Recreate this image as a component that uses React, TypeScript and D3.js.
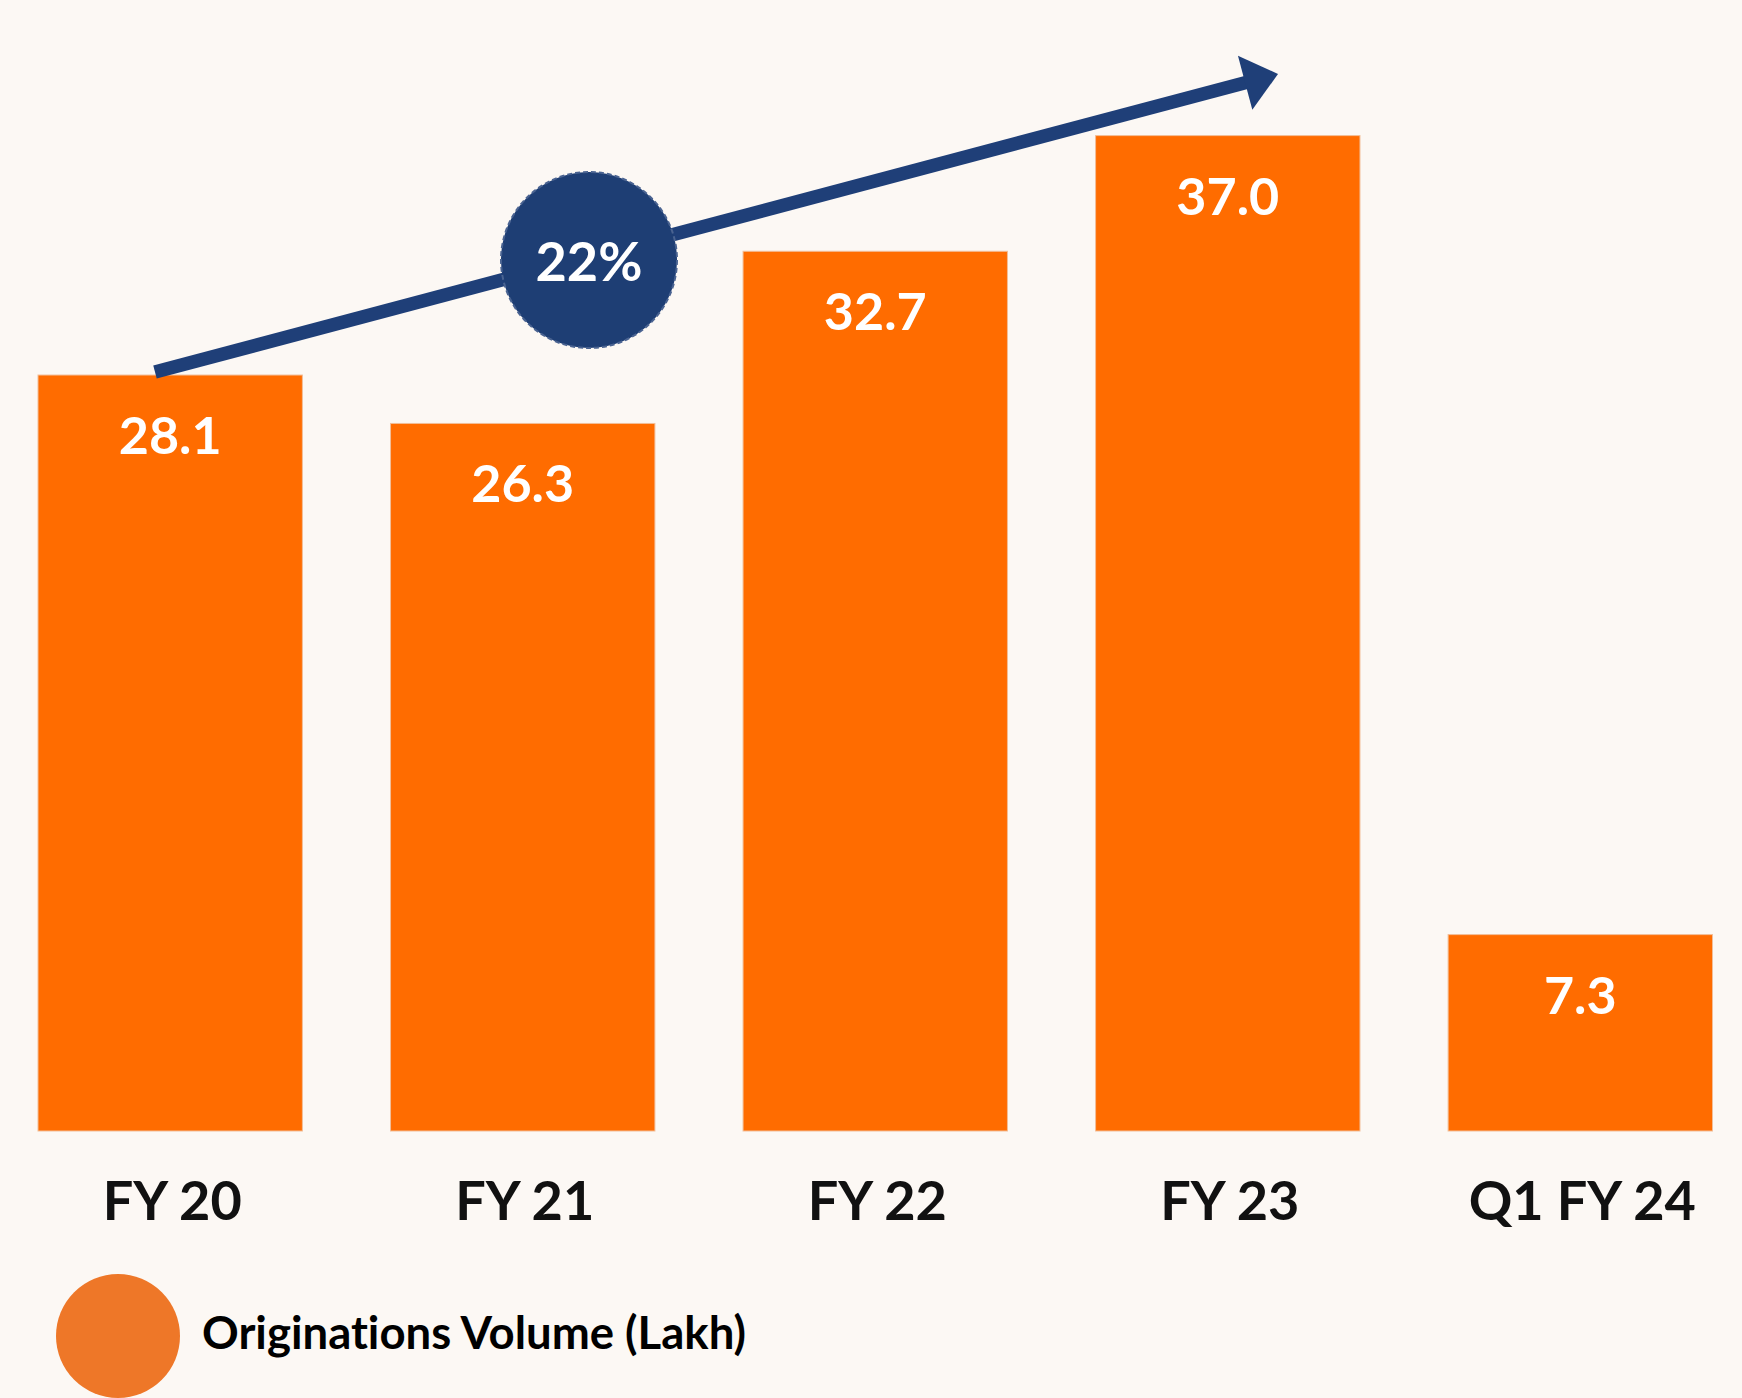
import React from "react";
import * as d3 from "d3";

const categories: string[] = ["FY 20", "FY 21", "FY 22", "FY 23", "Q1 FY 24"];
const volumes: number[] = [28.1, 26.3, 32.7, 37.0, 7.3];
const valueLabels: string[] = ["28.1", "26.3", "32.7", "37.0", "7.3"];
const cagrLabel = "22%";
const legendLabel = "Originations Volume (Lakh)";

const W = 1742;
const H = 1398;
const FONT = "Lato, 'Open Sans', sans-serif";

export default function App() {
  const x = d3.scaleBand<string>().domain(categories).range([38, 1712.5]).paddingInner(0.25).paddingOuter(0);
  const y = d3.scaleLinear().domain([0, 42.04]).range([1131, 0]);

  const start: [number, number] = [155, 372];
  const tip: [number, number] = [1278, 74];
  const ang = Math.atan2(tip[1] - start[1], tip[0] - start[0]);
  const headLen = 34;
  const headHalf = 28;
  const base: [number, number] = [tip[0] - headLen * Math.cos(ang), tip[1] - headLen * Math.sin(ang)];
  const nx = -Math.sin(ang);
  const ny = Math.cos(ang);
  const headPts: [number, number][] = [
    tip,
    [base[0] + nx * headHalf, base[1] + ny * headHalf],
    [base[0] - nx * headHalf, base[1] - ny * headHalf],
  ];
  const line = d3.line();
  const circleC: [number, number] = [589, 260];

  return (
    <svg
      width={W}
      height={H}
      style={{ position: "absolute", left: 0, top: 0, display: "block" }}
      xmlns="http://www.w3.org/2000/svg"
    >
      <rect x={0} y={0} width={W} height={H} fill="#FCF8F4" />
      {categories.map((c, i) => (
        <g key={c}>
          <rect
            x={x(c)}
            y={y(volumes[i])}
            width={x.bandwidth()}
            height={y(0) - y(volumes[i])}
            fill="#FF6C00"
            stroke="#F2BE98"
            strokeWidth={1}
          />
          <text
            x={(x(c) as number) + x.bandwidth() / 2}
            y={y(volumes[i]) + 79}
            textAnchor="middle"
            fill="#FFFFFF"
            fontFamily={FONT}
            fontWeight={700}
            fontSize={52}
          >
            {valueLabels[i]}
          </text>
          <text
            x={(x(c) as number) + x.bandwidth() / 2 + 2}
            y={1220}
            textAnchor="middle"
            fill="#111111"
            fontFamily={FONT}
            fontWeight={700}
            fontSize={54}
          >
            {c}
          </text>
        </g>
      ))}
      <path d={line([start, [base[0] + 2 * Math.cos(ang), base[1] + 2 * Math.sin(ang)]]) as string} stroke="#1F3F78" strokeWidth={13.5} fill="none" />
      <path d={(line(headPts) as string) + "Z"} fill="#1F3F78" />
      <circle cx={circleC[0]} cy={circleC[1]} r={88} fill="#1E3E74" stroke="#4A6391" strokeWidth={2} strokeDasharray="5 3" />
      <text
        x={circleC[0]}
        y={circleC[1] + 21}
        textAnchor="middle"
        fill="#FFFFFF"
        fontFamily={FONT}
        fontWeight={700}
        fontSize={54}
      >
        {cagrLabel}
      </text>
      <circle cx={118} cy={1336} r={62} fill="#EE7728" />
      <text
        x={202}
        y={1349}
        fill="#000000"
        fontFamily={FONT}
        fontWeight={700}
        fontSize={45.5}
        style={{ fontVariantLigatures: "none" }}
      >
        {legendLabel}
      </text>
    </svg>
  );
}
